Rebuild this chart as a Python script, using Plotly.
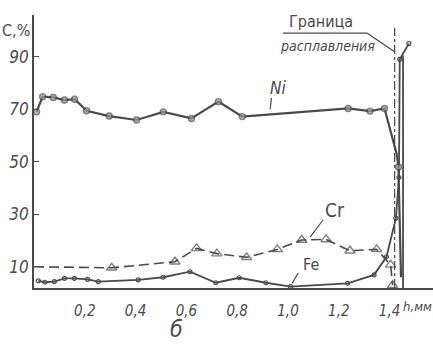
import plotly.graph_objects as go

# Ni, %
ni_x = [0.01, 0.034, 0.076, 0.12, 0.16, 0.207, 0.296, 0.404, 0.509, 0.62, 0.726, 0.82, 1.237, 1.323, 1.38, 1.40, 1.428, 1.435, 1.44, 1.445]
ni_y = [69, 74.8, 74.5, 73.5, 73.8, 69.4, 67.4, 65.9, 69, 66.5, 72.9, 67.2, 70.3, 69.3, 70.3, 63, 53, 48, 30, 6]
ni_mk = [1]*15 + [0, 0, 1, 0, 0]

# Cr, %
cr_x = [0.0, 0.306, 0.555, 0.64, 0.72, 0.837, 0.958, 1.054, 1.15, 1.244, 1.349, 1.404, 1.412]
cr_y = [10, 9.6, 11.9, 17, 15, 13.6, 16.6, 20.2, 20.4, 16.1, 16.6, 10.7, 3]
cr_mk = [0, 1, 1, 1, 1, 1, 1, 1, 1, 1, 1, 1, 1]

# Fe, %
fe_x = [0.017, 0.043, 0.08, 0.12, 0.159, 0.211, 0.253, 0.41, 0.509, 0.614, 0.716, 0.808, 0.913, 1.01, 1.235, 1.339, 1.388, 1.425, 1.437, 1.44, 1.476]
fe_y = [4.6, 4.1, 4.3, 5.6, 5.6, 5.2, 4.3, 5.0, 6.0, 8.1, 3.9, 5.8, 3.9, 2.4, 3.7, 6.9, 13.8, 28.5, 44, 89, 95]

x_ticks = [0.2, 0.4, 0.6, 0.8, 1.0, 1.2, 1.4]
x_ticktext = ["0,2", "0,4", "0,6", "0,8", "1,0", "1,2", "1,4"]
y_ticks = [10, 30, 50, 70, 90]

boundary_x = 1.453   # solid line: граница расплавления
dash_x = 1.42

INK = "#4a4a4a"
FONT = "DejaVu Sans Condensed"

fig = go.Figure()
fig.add_trace(go.Scatter(
    x=cr_x, y=cr_y, mode="lines+markers",
    line=dict(color=INK, width=1.6, dash="10px,5px"),
    marker=dict(symbol="triangle-up-open", size=[9 * m for m in cr_mk], color=INK, line=dict(width=1.4)),
    showlegend=False, cliponaxis=False))
fig.add_trace(go.Scatter(
    x=fe_x, y=fe_y, mode="lines+markers",
    line=dict(color=INK, width=1.8),
    marker=dict(symbol="circle-open", size=4, color=INK, line=dict(width=1.2)),
    showlegend=False, cliponaxis=False))
fig.add_trace(go.Scatter(
    x=ni_x, y=ni_y, mode="lines+markers",
    line=dict(color=INK, width=2.2),
    marker=dict(symbol="circle", size=[6 * m for m in ni_mk], color="#9a9a9a", line=dict(width=1.4, color=INK)),
    showlegend=False, cliponaxis=False))

# boundary lines
fig.add_shape(type="line", x0=boundary_x, x1=boundary_x, y0=1.9, y1=90.5,
              line=dict(color=INK, width=1.8))
fig.add_shape(type="line", x0=dash_x, x1=dash_x, y0=1.9, y1=101,
              line=dict(color=INK, width=1.2, dash="dashdot"))

# labels inside plot
fig.add_annotation(x=0.96, y=78, text="<i>Ni</i>", showarrow=False,
                   font=dict(size=17, color=INK, family=FONT))
fig.add_shape(type="line", x0=0.935, x1=0.93, y0=74.3, y1=70, line=dict(color=INK, width=1.2))
fig.add_annotation(x=1.185, y=31.5, text="Cr", showarrow=False,
                   font=dict(size=19, color=INK, family=FONT))
fig.add_shape(type="line", x0=1.138, x1=1.087, y0=27.8, y1=21.3, line=dict(color=INK, width=1.2))
fig.add_annotation(x=1.09, y=10.7, text="Fe", showarrow=False,
                   font=dict(size=16, color=INK, family=FONT))
fig.add_shape(type="line", x0=1.04, x1=1.016, y0=7.6, y1=3.6, line=dict(color=INK, width=1.2))
fig.add_annotation(x=1.13, y=103.6, text="Граница", showarrow=False,
                   font=dict(size=16, color=INK, family=FONT))
fig.add_annotation(x=1.157, y=94, text="<i>расплавления</i>", showarrow=False,
                   font=dict(size=14, color=INK, family=FONT))
fig.add_shape(type="line", x0=0.98, x1=1.311, y0=99, y1=99, line=dict(color=INK, width=1.2))
fig.add_shape(type="line", x0=1.311, x1=1.421, y0=99, y1=91.8, line=dict(color=INK, width=1.2))

# labels outside plot (paper coords)
fig.add_annotation(xref="paper", yref="paper", x=0.962, y=-0.066, text="<i>h,мм</i>", showarrow=False,
                   xanchor="center", yanchor="middle",
                   font=dict(size=13, color=INK, family=FONT))
fig.add_annotation(xref="paper", yref="paper", x=-0.045, y=0.945, text="С,%", showarrow=False,
                   xanchor="center", yanchor="middle",
                   font=dict(size=16, color=INK, family=FONT))
fig.add_annotation(xref="paper", yref="paper", x=0.358, y=-0.152, text="<i>б</i>", showarrow=False,
                   xanchor="center", yanchor="middle",
                   font=dict(size=23, color=INK, family=FONT))

fig.update_xaxes(range=[0, 1.571], tickvals=x_ticks, ticktext=x_ticktext, automargin=False,
                 showgrid=False, zeroline=False, showline=True, linecolor=INK, linewidth=1.8,
                 ticks="", ticklabelstandoff=8,
                 tickfont=dict(size=15, color=INK, family=FONT, style="italic"))
fig.update_yaxes(range=[1.9, 105.9], tickvals=y_ticks, automargin=False,
                 showgrid=False, zeroline=False, showline=True, linecolor=INK, linewidth=1.8,
                 ticks="inside", ticklen=5, tickcolor=INK, tickwidth=1.4,
                 tickfont=dict(size=17, color=INK, family=FONT, style="italic"))

fig.update_layout(width=433, height=347, margin=dict(l=34, r=0, t=15, b=59),
                  plot_bgcolor="white", paper_bgcolor="white")
fig.write_html("out.html", config={"displayModeBar": False},
               post_script="document.body.style.margin='0';document.body.style.overflow='hidden';")
